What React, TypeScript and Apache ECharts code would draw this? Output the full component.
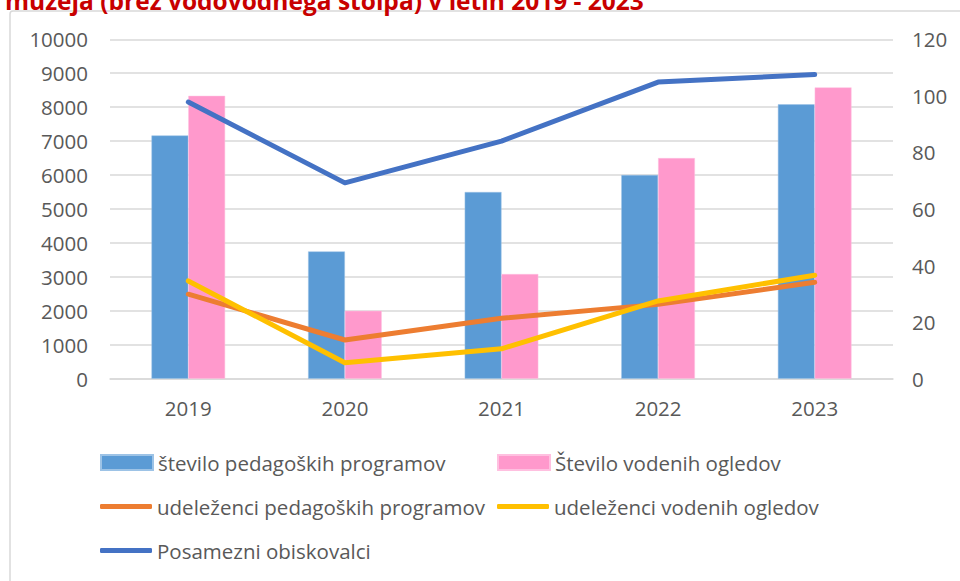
import React, { useEffect, useRef } from "react";
import * as echarts from "echarts";

const years = ["2019", "2020", "2021", "2022", "2023"];
const stPedProgramov = [86, 45, 66, 72, 97];
const stVodenihOgledov = [100, 24, 37, 78, 103];
const udelPedProgramov = [2490, 1140, 1780, 2190, 2840];
const udelVodenihOgledov = [2880, 470, 880, 2290, 3050];
const posamezniObiskovalci = [8150, 5770, 7000, 8740, 8960];

const names = [
  "število pedagoških programov",
  "Število vodenih ogledov",
  "udeleženci pedagoških programov",
  "udeleženci vodenih ogledov",
  "Posamezni obiskovalci",
];

const FONT = "Open Sans";
const GRAY = "#595959";

export default function App() {
  const ref = useRef<HTMLDivElement>(null);
  useEffect(() => {
    if (!ref.current) return;
    const chart = echarts.init(ref.current, null, { renderer: "svg" });
    const legendBase = (name: string, left: number, top: number, icon: string, h: number) => ({
      data: [name],
      left,
      top,
      padding: 0,
      itemWidth: 52,
      itemHeight: h,
      icon,
      itemGap: 0,
      textStyle: { fontFamily: FONT, fontSize: 20.5, color: GRAY },
    });
    chart.setOption({
      animation: false,
      backgroundColor: "#fff",
      textStyle: { fontFamily: FONT },
      graphic: [
        {
          type: "rect",
          shape: { x: 10, y: 11, width: 1000, height: 1000, r: 3 },
          style: { fill: "none", stroke: "#d9d9d9", lineWidth: 1.5 },
          z: -10,
        },
        {
          type: "text",
          x: 5,
          y: 12.5,
          style: {
            text: "muzeja (brez vodovodnega stolpa) v letih 2019 - 2023",
            fontFamily: FONT,
            fontWeight: "bold",
            fontSize: 24.5,
            fill: "#c80000",
            verticalAlign: "bottom",
          },
        },
      ],
      grid: { left: 110, right: 67, top: 39.3, bottom: 202.3, containLabel: false },
      legend: [
        legendBase(names[0], 100, 452, "rect", 15),
        legendBase(names[1], 497, 452, "rect", 15),
        legendBase(names[2], 100, 496, "roundRect", 5),
        legendBase(names[3], 497, 496, "roundRect", 5),
        legendBase(names[4], 100, 540, "roundRect", 5),
      ],
      xAxis: {
        type: "category",
        data: years,
        axisTick: { show: false },
        axisLine: { lineStyle: { color: "#d9d9d9", width: 1.5 } },
        axisLabel: { fontFamily: FONT, fontSize: 20.5, color: GRAY, margin: 19 },
      },
      yAxis: [
        {
          type: "value",
          min: 0,
          max: 10000,
          interval: 1000,
          axisLine: { show: false },
          axisTick: { show: false },
          splitLine: { lineStyle: { color: "#d9d9d9", width: 1.5 } },
          axisLabel: {
            fontFamily: FONT,
            fontSize: 20.5,
            color: GRAY,
            margin: 22,
            formatter: (v: number) => String(v),
          },
        },
        {
          type: "value",
          min: 0,
          max: 120,
          interval: 20,
          position: "right",
          axisLine: { show: false },
          axisTick: { show: false },
          splitLine: { show: false },
          axisLabel: {
            fontFamily: FONT,
            fontSize: 20.5,
            color: GRAY,
            margin: 19,
            formatter: (v: number) => String(v),
          },
        },
      ],
      series: [
        {
          name: names[0],
          type: "bar",
          yAxisIndex: 1,
          data: stPedProgramov,
          barGap: "0%",
          barCategoryGap: "53%",
          itemStyle: { color: "#5b9bd5", borderColor: "#9dc3e6", borderWidth: 0.5 },
          z: 1,
        },
        {
          name: names[1],
          type: "bar",
          yAxisIndex: 1,
          data: stVodenihOgledov,
          barGap: "0%",
          barCategoryGap: "53%",
          itemStyle: { color: "#ff99cc", borderColor: "#ffc0e0", borderWidth: 0.5 },
          z: 1,
        },
        {
          name: names[2],
          type: "line",
          yAxisIndex: 0,
          data: udelPedProgramov,
          symbol: "none",
          color: "#ed7d31",
          lineStyle: { color: "#ed7d31", width: 5, cap: "round", join: "round" },
          z: 3,
        },
        {
          name: names[3],
          type: "line",
          yAxisIndex: 0,
          data: udelVodenihOgledov,
          symbol: "none",
          color: "#ffc000",
          lineStyle: { color: "#ffc000", width: 5, cap: "round", join: "round" },
          z: 4,
        },
        {
          name: names[4],
          type: "line",
          yAxisIndex: 0,
          data: posamezniObiskovalci,
          symbol: "none",
          color: "#4472c4",
          lineStyle: { color: "#4472c4", width: 5, cap: "round", join: "round" },
          z: 5,
        },
      ],
    });
    return () => chart.dispose();
  }, []);
  return (
    <div
      ref={ref}
      style={{ position: "fixed", left: 0, top: 0, width: 960, height: 581 }}
    />
  );
}
